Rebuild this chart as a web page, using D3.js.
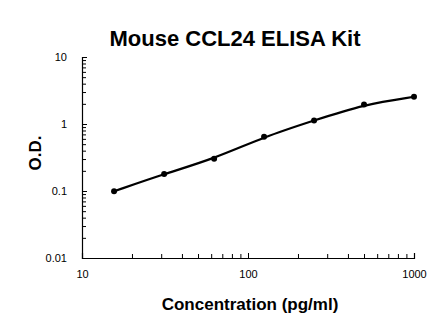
<!DOCTYPE html>
<html>
<head>
<meta charset="utf-8">
<script src="https://cdn.jsdelivr.net/npm/d3@7"></script>
<style>
  body { margin: 0; background: #fff; }
  svg { display: block; font-family: "Liberation Sans", Arial, sans-serif; }
  .title { font-size: 22px; font-weight: bold; }
  .axis-label { font-size: 17px; font-weight: bold; }
  .tick text { font-size: 11px; fill: #000; }
</style>
</head>
<body>
<div id="chart"></div>
<script>
(function () {
  "use strict";

  // ── Data ──────────────────────────────────────────
  const concentration = [15.6, 31.25, 62.5, 125, 250, 500, 1000];
  const od = [0.099, 0.18, 0.303, 0.645, 1.13, 1.96, 2.55];
  const xTicks = [10, 100, 1000];
  const yTicks = [0.01, 0.1, 1, 10];

  // ── Layout ────────────────────────────────────────
  const width = 446, height = 330;
  const MARGIN = { top: 57, right: 32, bottom: 72, left: 82 };

  const svg = d3.select("#chart").append("svg")
    .attr("width", width)
    .attr("height", height);

  const x = d3.scaleLog().domain([10, 1000]).range([MARGIN.left, width - MARGIN.right]);
  const y = d3.scaleLog().domain([0.01, 10]).range([height - MARGIN.bottom, MARGIN.top]);

  // minor ticks for each decade
  function minorTicks(domain) {
    const out = [];
    for (let p = Math.log10(domain[0]); p < Math.log10(domain[1]); p++) {
      for (let k = 2; k <= 9; k++) out.push(k * Math.pow(10, p));
    }
    return out;
  }

  // x axis — ticks point inward (up)
  const gx = svg.append("g").attr("transform", `translate(0,${height - MARGIN.bottom})`);
  gx.call(d3.axisBottom(x).tickValues(xTicks).tickFormat(d3.format("d")).tickSize(-5).tickPadding(12));
  gx.append("g").call(d3.axisBottom(x).tickValues(minorTicks(x.domain())).tickFormat("").tickSize(-4))
    .select(".domain").remove();

  // y axis — ticks point inward (right)
  const gy = svg.append("g").attr("transform", `translate(${MARGIN.left},0)`);
  gy.call(d3.axisLeft(y).tickValues(yTicks).tickFormat(d => d3.format("")(d)).tickSize(-5).tickPadding(15));
  gy.append("g").call(d3.axisLeft(y).tickValues(minorTicks(y.domain())).tickFormat("").tickSize(-4))
    .select(".domain").remove();

  svg.selectAll(".domain").attr("stroke", "#000").attr("stroke-width", 1.2);
  svg.selectAll(".tick line").attr("stroke", "#000");

  // smooth standard curve
  const line = d3.line()
    .x((d, i) => x(concentration[i]))
    .y(d => y(d))
    .curve(d3.curveBasis);

  svg.append("path")
    .datum(od)
    .attr("d", line)
    .attr("fill", "none")
    .attr("stroke", "#000")
    .attr("stroke-width", 2.2);

  svg.selectAll(".pt").data(od).enter().append("circle")
    .attr("class", "pt")
    .attr("cx", (d, i) => x(concentration[i]))
    .attr("cy", d => y(d))
    .attr("r", 3)
    .attr("fill", "#000");

  // texts
  svg.append("text").attr("class", "title")
    .attr("x", 235).attr("y", 46).attr("text-anchor", "middle")
    .text("Mouse CCL24 ELISA Kit");

  svg.append("text").attr("class", "axis-label")
    .attr("x", 250).attr("y", 310).attr("text-anchor", "middle")
    .text("Concentration (pg/ml)");

  svg.append("text").attr("class", "axis-label")
    .attr("transform", `translate(41,153) rotate(-90)`)
    .attr("text-anchor", "middle")
    .text("O.D.");
})();
</script>
</body>
</html>
